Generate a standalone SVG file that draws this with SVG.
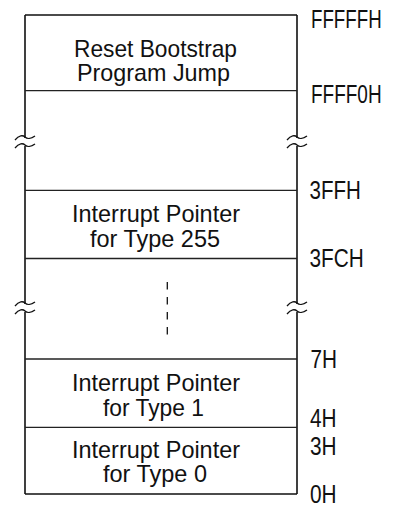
<svg xmlns="http://www.w3.org/2000/svg" width="396" height="507" viewBox="0 0 396 507">
<style>
text{font-family:"Liberation Sans",Arial,sans-serif;font-size:24px;fill:#111}
text.a{font-size:26px}
.b{stroke:#111;stroke-width:1.6;fill:none}
.d{stroke:#222;stroke-width:1.3;fill:none}
.s{stroke:#111;stroke-width:1.3;fill:none}
.dash{stroke:#111;stroke-width:1.3;stroke-dasharray:7.5 7.5;fill:none}
</style>
<rect width="396" height="507" fill="#fff"/>
<g id="frame">
<path class="b" d="M25,15 H297 M25,494 H297 M25,15 V138 M25,146 V304 M25,312 V494 M297,15 V138 M297,146 V304 M297,312 V494"/>
</g>
<g id="breaks">
<path class="s" d="M15,140 C19,135 23,135 25,137 C27,139 31,139 35,136 M15,148 C19,143 23,143 25,145 C27,147 31,147 35,144"/>
<path class="s" d="M287,140 C291,135 295,135 297,137 C299,139 303,139 307,136 M287,148 C291,143 295,143 297,145 C299,147 303,147 307,144"/>
<path class="s" d="M15,306 C19,301 23,301 25,303 C27,305 31,305 35,302 M15,314 C19,309 23,309 25,311 C27,313 31,313 35,310"/>
<path class="s" d="M287,306 C291,301 295,301 297,303 C299,305 303,305 307,302 M287,314 C291,309 295,309 297,311 C299,313 303,313 307,310"/>
</g>
<g id="n-reset">
<path class="d" d="M25,90.7 H297"/>
<text><tspan x="74" y="56.5" textLength="163" lengthAdjust="spacingAndGlyphs">Reset Bootstrap</tspan><tspan x="77" y="81" textLength="153" lengthAdjust="spacingAndGlyphs">Program Jump</tspan></text>
</g>
<g id="n-type255">
<path class="d" d="M25,190.3 H297 M25,258.5 H297"/>
<text><tspan x="72" y="222" textLength="168" lengthAdjust="spacingAndGlyphs">Interrupt Pointer</tspan><tspan x="90" y="247" textLength="130" lengthAdjust="spacingAndGlyphs">for Type 255</tspan></text>
</g>
<g id="n-gap">
<path class="dash" d="M167.3,282 V336"/>
</g>
<g id="n-type1">
<path class="d" d="M25,359 H297"/>
<text><tspan x="72" y="390.5" textLength="168" lengthAdjust="spacingAndGlyphs">Interrupt Pointer</tspan><tspan x="103" y="415.5" textLength="101" lengthAdjust="spacingAndGlyphs">for Type 1</tspan></text>
</g>
<g id="n-type0">
<path class="d" d="M25,427.3 H297"/>
<text><tspan x="72" y="457.5" textLength="168" lengthAdjust="spacingAndGlyphs">Interrupt Pointer</tspan><tspan x="103" y="482" textLength="104" lengthAdjust="spacingAndGlyphs">for Type 0</tspan></text>
</g>
<g id="addresses">
<text class="a" transform="translate(311,28) scale(0.72,1)">FFFFFH</text>
<text class="a" transform="translate(311,103) scale(0.73,1)">FFFF0H</text>
<text class="a" transform="translate(309.5,199) scale(0.79,1)">3FFH</text>
<text class="a" transform="translate(309.5,267.3) scale(0.8,1)">3FCH</text>
<text class="a" transform="translate(310.5,368) scale(0.8,1)">7H</text>
<text class="a" transform="translate(310,426.7) scale(0.8,1)">4H</text>
<text class="a" transform="translate(310,455) scale(0.8,1)">3H</text>
<text class="a" transform="translate(310,502.7) scale(0.8,1)">0H</text>
</g>
</svg>
